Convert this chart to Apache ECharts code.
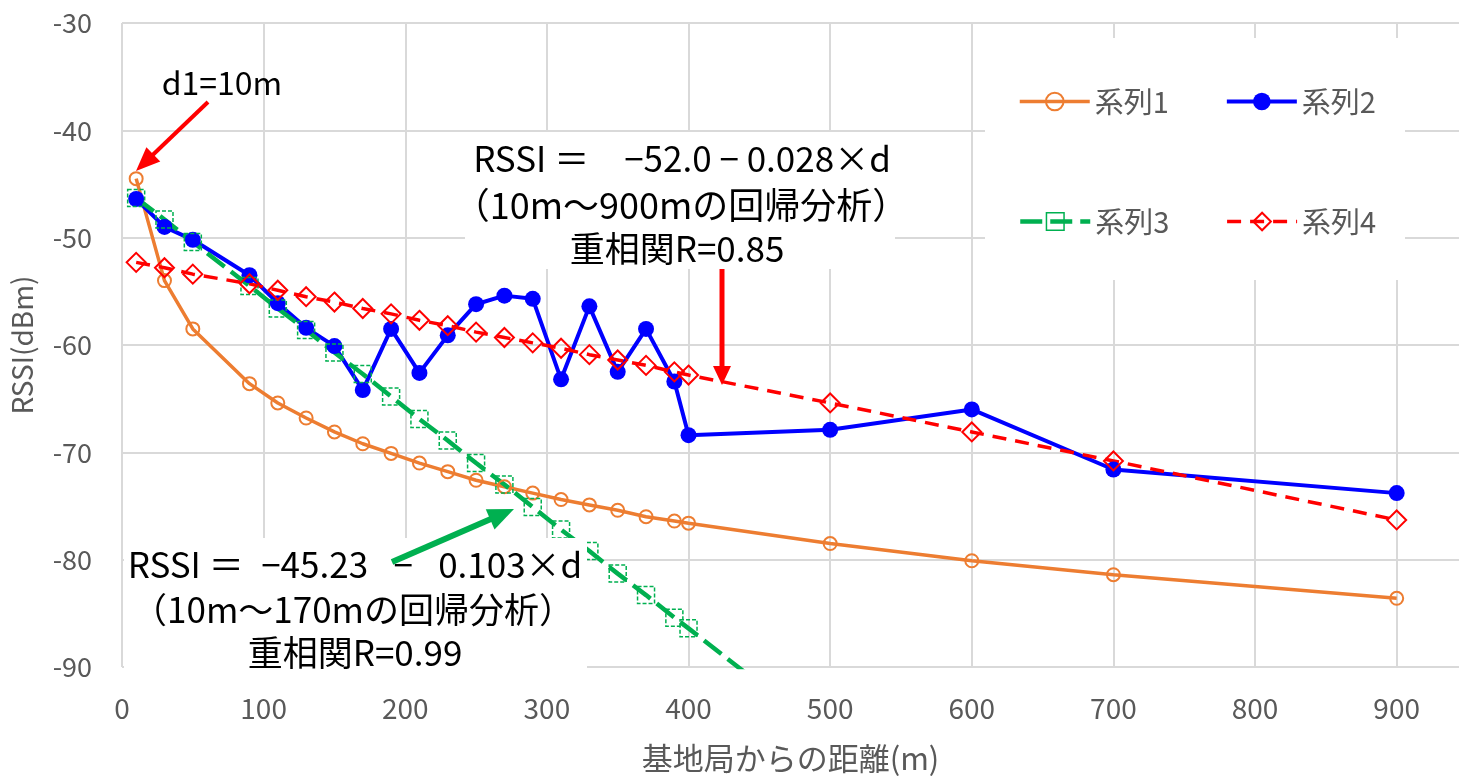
<!DOCTYPE html>
<html>
<head>
<meta charset="utf-8">
<script src="https://cdn.jsdelivr.net/npm/echarts@6/dist/echarts.min.js"></script>
<style>
html, body { margin: 0; padding: 0; background: #fff; }
#chart { width: 1459px; height: 779px; }
</style>
</head>
<body>
<div id="chart"></div>
<script>
// 基地局からの距離(m)
const distances = [10, 30, 50, 90, 110, 130, 150, 170, 190, 210, 230, 250, 270, 290, 310, 330, 350, 370, 390, 400, 500, 600, 700, 900];
const series1 = [-44.5, -54.0, -58.5, -63.6, -65.4, -66.8, -68.1, -69.2, -70.1, -71.0, -71.8, -72.6, -73.2, -73.8, -74.4, -74.9, -75.4, -76.0, -76.4, -76.6, -78.5, -80.1, -81.4, -83.6];
const series2 = [-46.4, -49.0, -50.2, -53.5, -56.1, -58.4, -60.1, -64.2, -58.5, -62.6, -59.1, -56.2, -55.4, -55.7, -63.2, -56.4, -62.5, -58.5, -63.4, -68.4, -67.9, -66.0, -71.6, -73.8];
const series3Dist = [10, 30, 50, 90, 110, 130, 150, 170, 190, 210, 230, 250, 270, 290, 310, 330, 350, 370, 390, 400, 500];
const series3 = [-46.3, -48.3, -50.4, -54.5, -56.6, -58.6, -60.7, -62.7, -64.8, -66.9, -68.9, -71.0, -73.0, -75.1, -77.2, -79.2, -81.3, -83.3, -85.4, -86.4, -96.7];
const series4 = [-52.3, -52.8, -53.4, -54.3, -54.9, -55.5, -56.0, -56.6, -57.1, -57.7, -58.2, -58.8, -59.3, -59.8, -60.3, -60.9, -61.4, -61.9, -62.5, -62.8, -65.4, -68.1, -70.8, -76.3];
const seriesNames = ['系列1', '系列2', '系列3', '系列4'];
const yTicks = [-90, -80, -70, -60, -50, -40, -30];
const xTicks = [0, 100, 200, 300, 400, 500, 600, 700, 800, 900];

const FONT = "'Noto Sans CJK JP', 'Noto Sans', sans-serif";
const GRAY = '#595959';

function pairs(xs, ys) {
    return xs.map((x, i) => [x, ys[i]]);
}

function arrow(x1, y1, x2, y2, color, w, hl, hw) {
    const dx = x2 - x1, dy = y2 - y1;
    const len = Math.hypot(dx, dy);
    const ux = dx / len, uy = dy / len;
    const bx = x2 - ux * hl, by = y2 - uy * hl;
    return [
        { type: 'line', z: 30, shape: { x1: x1, y1: y1, x2: bx + ux * 2, y2: by + uy * 2 }, style: { stroke: color, lineWidth: w } },
        { type: 'polygon', z: 30, shape: { points: [[x2, y2], [bx - uy * hw, by + ux * hw], [bx + uy * hw, by - ux * hw]] }, style: { fill: color } },
    ];
}

function label(text, x, y, size) {
    return {
        type: 'text', z: 31, x: x, y: y,
        style: { text: text, fontSize: size || 35, fontFamily: FONT, fill: '#000', align: 'center', verticalAlign: 'middle' },
    };
}

const legendBase = {
    left: 1013, itemWidth: 70, itemHeight: 22, itemGap: 56, z: 5,
    textStyle: { color: GRAY, fontSize: 29, fontFamily: FONT },
    lineStyle: { width: 'inherit' },
    itemStyle: { borderWidth: 'inherit' },
};

const option = {
    animation: false,
    backgroundColor: '#fff',
    grid: { left: 122, right: 0, top: 23, bottom: 111 },
    legend: [
        Object.assign({ data: seriesNames.slice(0, 2), top: 82 }, legendBase),
        Object.assign({ data: seriesNames.slice(2), top: 202 }, legendBase),
    ],
    xAxis: {
        type: 'value',
        min: xTicks[0],
        max: 944,
        interval: 100,
        name: '基地局からの距離(m)',
        nameLocation: 'middle',
        nameGap: 76,
        nameTextStyle: { color: GRAY, fontSize: 31, fontFamily: FONT },
        axisLine: { show: false },
        axisTick: { show: false },
        axisLabel: { color: GRAY, fontSize: 28, fontFamily: FONT, margin: 27, showMaxLabel: false },
        splitLine: { show: true, showMaxLine: false, lineStyle: { color: '#d9d9d9', width: 2 } },
    },
    yAxis: {
        type: 'value',
        min: yTicks[0],
        max: yTicks[yTicks.length - 1],
        interval: 10,
        name: 'RSSI(dBm)',
        nameLocation: 'middle',
        nameGap: 86,
        nameTextStyle: { color: GRAY, fontSize: 28, fontFamily: FONT },
        axisLine: { show: false },
        axisTick: { show: false },
        axisLabel: { color: GRAY, fontSize: 27, fontFamily: FONT, margin: 30 },
        splitLine: { lineStyle: { color: '#d9d9d9', width: 2 } },
    },
    series: [
        {
            name: seriesNames[0], type: 'line', data: pairs(distances, series1),
            symbol: 'circle', symbolSize: 13,
            lineStyle: { color: '#ED7D31', width: 3.5 },
            itemStyle: { color: 'rgba(255,255,255,0)', borderColor: '#ED7D31', borderWidth: 2 },
        },
        {
            name: seriesNames[1], type: 'line', data: pairs(distances, series2),
            symbol: 'circle', symbolSize: 16,
            lineStyle: { color: '#0000FF', width: 4 },
            itemStyle: { color: '#0000FF' },
        },
        {
            name: seriesNames[2], type: 'line', data: pairs(series3Dist, series3),
            symbol: 'rect', symbolSize: 17,
            lineStyle: { color: '#00B050', width: 4.5, type: [22, 8] },
            itemStyle: { color: 'rgba(255,255,255,0)', borderColor: '#00B050', borderWidth: 1.5, borderType: [4, 2] },
        },
        {
            name: seriesNames[3], type: 'line', data: pairs(distances, series4),
            symbol: 'diamond', symbolSize: 19,
            lineStyle: { color: '#FF0000', width: 3.5, type: [14, 9] },
            itemStyle: { color: 'rgba(255,255,255,0)', borderColor: '#FF0000', borderWidth: 2 },
        },
    ],
    graphic: [
        // legend background
        { type: 'rect', z: 1, shape: { x: 985, y: 38, width: 420, height: 242 }, style: { fill: '#fff' } },
        // upper regression box
        { type: 'rect', z: 20, shape: { x: 465, y: 132, width: 430, height: 137 }, style: { fill: '#fff' } },
        label('RSSI ＝　−52.0 − 0.028×d', 682, 159),
        label('（10m～900mの回帰分析）', 681, 205, 36),
        label('重相関R=0.85', 677, 249),
        // lower regression box
        { type: 'rect', z: 20, shape: { x: 124, y: 538, width: 463, height: 138 }, style: { fill: '#fff' } },
        label('RSSI ＝\u2002−45.23\u2002 −\u2002 0.103×d', 355, 565),
        label('（10m～170mの回帰分析）', 353, 610),
        label('重相関R=0.99', 355, 653),
        // d1 note
        label('d1=10m', 222, 83, 32),
    ]
        .concat(arrow(208, 102, 136, 171, '#FF0000', 4, 24, 10))
        .concat(arrow(722, 269, 722, 385, '#FF0000', 5, 19, 9))
        .concat(arrow(392, 562, 514, 509, '#00B050', 6, 26, 11)),
};

const chart = echarts.init(document.getElementById('chart'));
chart.setOption(option);
</script>
</body>
</html>
